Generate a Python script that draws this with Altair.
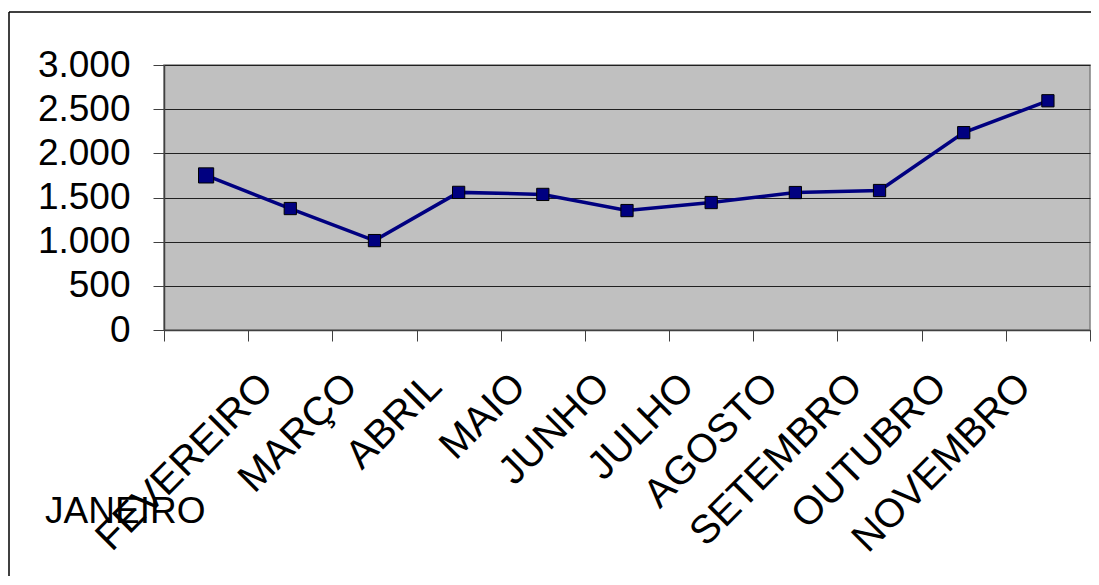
import altair as alt
import pandas as pd

meses = ["JANEIRO", "FEVEREIRO", "MARÇO", "ABRIL", "MAIO", "JUNHO",
         "JULHO", "AGOSTO", "SETEMBRO", "OUTUBRO", "NOVEMBRO"]
valores = [1750, 1375, 1012, 1558, 1535, 1352, 1443, 1556, 1579, 2234, 2595]
y_ticks = [0, 500, 1000, 1500, 2000, 2500, 3000]

df = pd.DataFrame({"mes": meses, "valor": valores})
FONT = "Liberation Sans"

x_enc = alt.X("mes:N", sort=meses,
              scale=alt.Scale(paddingInner=0, paddingOuter=0),
              axis=alt.Axis(title=None, labelAngle=-45, labelAlign="right",
                            labelBaseline="middle", labelFontSize=40,
                            labelFont=FONT, labelColor="black",
                            labelPadding=39, labelOffset=-24, labelLimit=600,
                            labelExpr="datum.value == 'JANEIRO' ? '' : datum.value",
                            tickBand="extent", tickSize=11, tickColor="#404040",
                            domainColor="#404040", domainWidth=1.5,
                            grid=False, labelOverlap=False))
y_enc = alt.Y("valor:Q", scale=alt.Scale(domain=[0, 3000], nice=False),
              axis=alt.Axis(title=None, values=y_ticks, labelFontSize=37,
                            labelFont=FONT, labelColor="black", labelPadding=23,
                            labelExpr="replace(format(datum.value, ','), ',', '.')",
                            tickSize=11, tickColor="#404040",
                            domainColor="#404040", domainWidth=1.5,
                            grid=True, gridColor="#202020", gridWidth=1))

base = alt.Chart(df)

line = base.mark_line(color="#000080", strokeWidth=3.5).encode(x=x_enc, y=y_enc)
pts = base.mark_point(shape="square", filled=True, color="#000080",
                      stroke="black", strokeWidth=1, opacity=1).encode(
    x=alt.X("mes:N", sort=meses),
    y="valor:Q",
    size=alt.condition("datum.mes == 'JANEIRO'", alt.value(230), alt.value(150)),
)

jan = base.transform_filter("datum.mes == 'JANEIRO'").mark_text(
    align="left", baseline="alphabetic", fontSize=37, font=FONT, color="black",
    dx=-161).encode(
    x=alt.X("mes:N", sort=meses), y=alt.value(458), text="mes:N")

one = alt.Chart(alt.Data(values=[{}]))
frame_top = one.mark_rule(color="black", strokeWidth=1.5).encode(
    x=alt.value(-155), x2=alt.value(960), y=alt.value(-53))
frame_left = one.mark_rule(color="black", strokeWidth=1.5).encode(
    x=alt.value(-155), y=alt.value(-53), y2=alt.value(560))

chart = alt.layer(frame_top, frame_left, line, pts, jan).properties(
    width=926, height=265,
    padding={"left": 156, "top": 57, "right": 1, "bottom": 246},
    autosize=alt.AutoSizeParams(type="none"),
).configure_view(fill="#C0C0C0", stroke="#808080", strokeWidth=1.5)

chart.save("out.html", embed_options={"renderer": "svg", "actions": False})
